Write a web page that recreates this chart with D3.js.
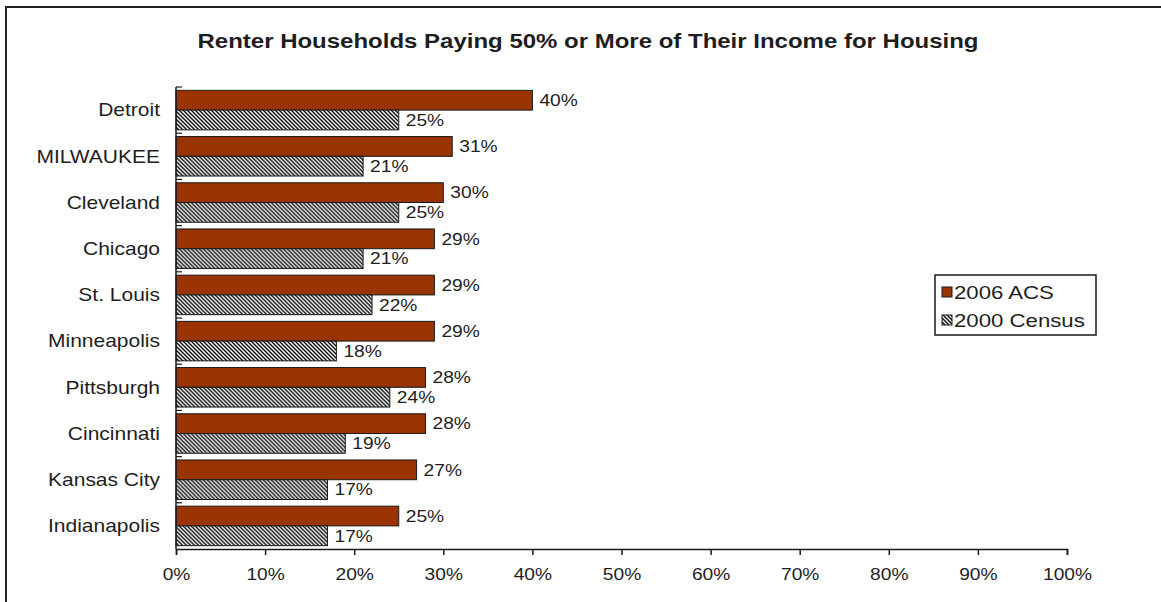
<!DOCTYPE html>
<html>
<head>
<meta charset="utf-8">
<script src="https://cdn.jsdelivr.net/npm/d3@7"></script>
<style>
  body { margin: 0; background: #fff; }
  svg { display: block; }
  text { font-family: "Liberation Sans", Arial, Helvetica, sans-serif; fill: #1e1e1e; }
</style>
</head>
<body>
<svg id="chart" width="1161" height="602"></svg>
<script>
// Share of renter households paying 50% or more of income for housing
const categories = ["Detroit", "MILWAUKEE", "Cleveland", "Chicago", "St. Louis",
                    "Minneapolis", "Pittsburgh", "Cincinnati", "Kansas City", "Indianapolis"];
const acs2006    = [40, 31, 30, 29, 29, 29, 28, 28, 27, 25];
const census2000 = [25, 21, 25, 21, 22, 18, 24, 19, 17, 17];
const seriesNames = ["2006 ACS", "2000 Census"];
const xTickValues = [0, 10, 20, 30, 40, 50, 60, 70, 80, 90, 100];
const titleText = "Renter Households Paying 50% or More of Their Income for Housing";

const svg = d3.select("#chart");
const SX = 1.2;            // horizontal text stretch
const ORANGE = "#993300";

// Outer chart frame (runs off the right and bottom edges)
svg.append("rect")
  .attr("x", 6).attr("y", 7).attr("width", 1200).attr("height", 700)
  .attr("fill", "none").attr("stroke", "#222").attr("stroke-width", 2);

// Diagonal hatch fill for the 2000 Census series
const defs = svg.append("defs");
const pat = defs.append("pattern")
  .attr("id", "hatch").attr("patternUnits", "userSpaceOnUse")
  .attr("width", 4).attr("height", 4);
pat.append("rect").attr("width", 4).attr("height", 4).attr("fill", "#fff");
pat.append("path")
  .attr("d", "M-1,-1 L5,5 M-1,3 L1,5 M3,-1 L5,1")
  .attr("stroke", "#111").attr("stroke-width", 1.5);

const fills = { "2006 ACS": ORANGE, "2000 Census": "url(#hatch)" };

// Scales
const x = d3.scaleLinear().domain([0, 100]).range([176, 1067]);
const y = d3.scaleBand().domain(categories).range([87, 549]).paddingInner(0).paddingOuter(0);
const sub = d3.scaleBand().domain(seriesNames).range([0, y.bandwidth()])
  .paddingInner(0).paddingOuter(0.17);

// Text helper with horizontal stretch
function stretchedText(g, tx, ty, str, opts) {
  return g.append("text")
    .attr("transform", `translate(${tx},${ty}) scale(${SX},1)`)
    .attr("text-anchor", opts.anchor || "start")
    .attr("dy", opts.dy || "0")
    .style("font-size", opts.size + "px")
    .style("font-weight", opts.weight || "normal")
    .text(str);
}

// Title
stretchedText(svg, 588, 48, titleText, { anchor: "middle", size: 20, weight: "bold" });

// Rows of grouped bars
const rows = categories.map((c, i) => ({
  category: c,
  values: [
    { series: seriesNames[0], value: acs2006[i] },
    { series: seriesNames[1], value: census2000[i] }
  ]
}));

const groups = svg.append("g").selectAll("g.row")
  .data(rows).join("g")
  .attr("class", "row")
  .attr("transform", d => `translate(0,${y(d.category)})`);

groups.selectAll("rect")
  .data(d => d.values).join("rect")
  .attr("x", x(0))
  .attr("y", d => sub(d.series))
  .attr("width", d => x(d.value) - x(0))
  .attr("height", sub.bandwidth())
  .attr("fill", d => fills[d.series])
  .attr("stroke", "#1a1a1a")
  .attr("stroke-width", 1);

groups.each(function (d) {
  const g = d3.select(this);
  d.values.forEach(v => {
    stretchedText(g, x(v.value) + 7, sub(v.series) + sub.bandwidth() / 2,
      Math.round(v.value) + "%", { size: 16, dy: "0.36em" });
  });
});

// Category labels
categories.forEach(c => {
  stretchedText(svg, 160, y(c) + y.bandwidth() / 2, c, { anchor: "end", size: 17.5, dy: "0.36em" });
});

// Vertical category axis with inward boundary ticks
const yAxis = svg.append("g");
yAxis.append("line")
  .attr("x1", x(0)).attr("x2", x(0))
  .attr("y1", y.range()[0]).attr("y2", y.range()[1])
  .attr("stroke", "#1a1a1a").attr("stroke-width", 1.5);
yAxis.selectAll("line.tick")
  .data(categories).join("line")
  .attr("class", "tick")
  .attr("x1", x(0)).attr("x2", x(0) + 6)
  .attr("y1", d => y(d)).attr("y2", d => y(d))
  .attr("stroke", "#1a1a1a").attr("stroke-width", 1.2);

// Horizontal value axis
const xAxisG = svg.append("g")
  .attr("transform", `translate(0,${y.range()[1]})`)
  .call(d3.axisBottom(x).tickValues(xTickValues).tickSize(6).tickPadding(14)
    .tickFormat(d => d + "%"));
xAxisG.select(".domain").attr("stroke", "#1a1a1a").attr("stroke-width", 1.5);
xAxisG.selectAll(".tick line").attr("stroke", "#1a1a1a").attr("stroke-width", 1.5);
xAxisG.selectAll(".tick text")
  .attr("transform", `scale(${SX},1)`)
  .style("font-size", "16px")
  .attr("fill", "#1e1e1e")
  .style("font-family", "'Liberation Sans', Arial, sans-serif");

// Legend
const legend = svg.append("g").attr("transform", "translate(935,275)");
legend.append("rect")
  .attr("width", 161).attr("height", 60)
  .attr("fill", "#fff").attr("stroke", "#1a1a1a").attr("stroke-width", 1.5);
seriesNames.forEach((s, i) => {
  const cy = 17 + i * 28;
  legend.append("rect")
    .attr("x", 7).attr("y", cy - 5).attr("width", 10).attr("height", 10)
    .attr("fill", fills[s]).attr("stroke", "#1a1a1a").attr("stroke-width", 1);
  stretchedText(legend, 19, cy, s, { size: 18.5, dy: "0.36em" });
});
</script>
</body>
</html>
